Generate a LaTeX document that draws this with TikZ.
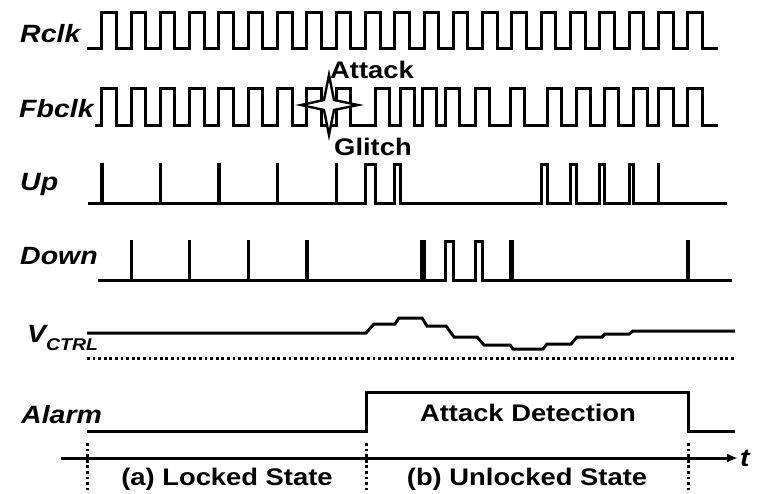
\documentclass[tikz,border=0pt]{standalone}
\usepackage{fontspec}
\setmainfont{Liberation Sans}[FakeStretch=1.14]
\usetikzlibrary{arrows.meta}
\begin{document}
\begin{tikzpicture}[x=1pt,y=-1pt,
  wave/.style={line width=3pt, line join=miter, line cap=butt},
  lbl/.style={font=\fontsize{25}{29}\selectfont\bfseries\itshape, inner sep=0pt, anchor=base west},
  txt/.style={font=\fontsize{24}{28}\selectfont\bfseries, inner sep=0pt, anchor=base},
  dotline/.style={line width=3pt, dash pattern=on 2.8pt off 2.8pt}]
\useasboundingbox (0,0) rectangle (759,493);

% signal labels
\node[lbl] (rclk) at (20,42) {Rclk};
\node[lbl] (fbclk) at (19,117) {Fbclk};
\node[lbl] (up) at (20,190) {Up};
\node[lbl] (down) at (20,264) {Down};
\node[lbl] (vctrl) at (27,342) {V\raisebox{-8pt}{\fontsize{17}{19}\selectfont CTRL}};
\node[lbl] (alarm) at (21,423) {Alarm};

% Rclk
\draw[wave] (87,48) foreach \k in {0,...,20}{
  -- ({101.7+29.3*\k},48) -- ({101.7+29.3*\k},12) -- ({116.3+29.3*\k},12) -- ({116.3+29.3*\k},48)
} -- (718,48);

% Fbclk
\draw[wave] (95,125) foreach \k in {0,...,8}{
  -- ({101.7+29.3*\k},125) -- ({101.7+29.3*\k},88) -- ({116.3+29.3*\k},88) -- ({116.3+29.3*\k},125)
} foreach \r in {375,400,422,445,475,510,547,576,604,633,658.4,687.7}{
  -- (\r,125) -- (\r,88) -- ({\r+14.6},88) -- ({\r+14.6},125)
} -- (718,125);

% glitch star
\draw[line width=2.4pt, fill=white, line join=miter]
  (329,75) -- (334,100) -- (358,105) -- (334,110) -- (329,135) -- (324,110) -- (301,105) -- (324,100) -- cycle;
\node[txt] (attack) at (372,78) {Attack};
\node[txt] (glitch) at (373,155) {Glitch};

% Up
\draw[wave] (88,203) foreach \a/\b in {101.7/102,160.3/160.6,218.9/219.2,277.5/277.8,336.1/336.4,
  365.4/375,394.7/400,541.2/547,570.5/576,599.8/604,629.1/633,658.4/658.7}{
  -- (\a,203) -- (\a,164) -- (\b,164) -- (\b,203)
} -- (727,203);

% Down
\draw[wave] (98,280) foreach \a/\b in {131/131.3,189.6/189.9,248.2/248.5,306.8/307.1,
  421.5/424.5,445/453.3,475/482.6,510/512,687.7/688}{
  -- (\a,280) -- (\a,241) -- (\b,241) -- (\b,280)
} -- (732,280);

% VCTRL
\draw[wave] (87,333) -- (366,333) -- (374,324) -- (395,324) -- (399,318) -- (422,318) -- (427,326)
  -- (446,326) -- (454,337) -- (477,337) -- (484,345) -- (510,345) -- (513,349) -- (543,349)
  -- (547,344) -- (571,344) -- (577,337) -- (602,337) -- (605,334) -- (629,334) -- (633,331) -- (735,331);
\draw[dotline] (87,358) -- (735,358);

% Alarm
\draw[wave] (87,431) -- (366,431) -- (366,392) -- (688,392) -- (688,431) -- (735,431);
\node[txt] (det) at (528,421) {Attack Detection};

% time axis
\coordinate (ax0) at (61,458);
\coordinate (ax1) at (738,458);
\draw[line width=3pt, -{Latex[length=11pt,width=9pt]}] (ax0) -- (ax1);
\node[lbl] (t) at (740,466) {t};
\draw[dotline] (87,443) -- (87,490);
\draw[dotline] (366,443) -- (366,490);
\draw[dotline] (688,443) -- (688,490);
\node[txt] (lock) at (227,485) {(a) Locked State};
\node[txt] (unlock) at (527,485) {(b) Unlocked State};
\end{tikzpicture}
\end{document}
